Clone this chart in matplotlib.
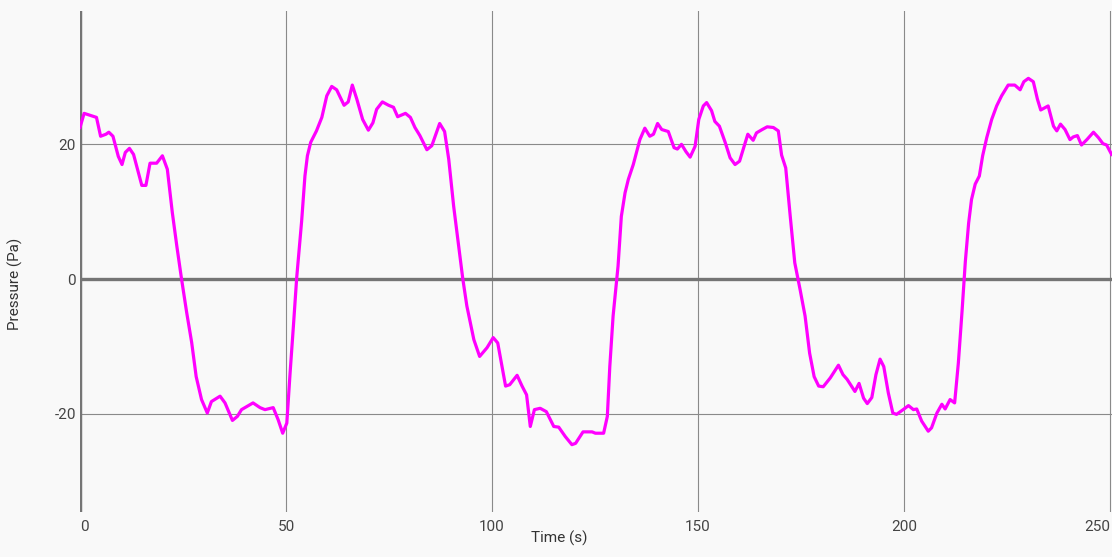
import matplotlib.pyplot as plt

plt.rcParams['font.family'] = ['Roboto', 'DejaVu Sans']

# Pressure trace
time_s = [0, 1, 4, 5, 6.3, 7, 8, 9.3, 10.2, 11, 12, 13, 15, 16, 17, 18.6, 20, 21.2,
          22.4, 23.5, 24.6, 25.9, 27.1, 28.2, 29.5, 30.9, 31.9, 34, 35.2, 37, 38.2,
          39.2, 42, 43.7, 44.9, 46.9, 48.1, 49.2, 50.2, 51, 51.8, 52.6, 53.8, 54.6,
          55.2, 56, 57.4, 58.7, 59.9, 61.1, 62.3, 64.1, 65.1, 66.1, 67.2, 68.6, 70,
          71.1, 72, 73.4, 74.9, 76.1, 77.1, 79, 80.2, 81.3, 82.5, 84.2, 85.4, 87.3,
          88.5, 89.5, 90.7, 91.9, 92.9, 93.9, 95.6, 97, 98.8, 100.3, 101.4, 103.3,
          104.3, 106.1, 107.3, 108.4, 109.3, 110.3, 111.7, 113.2, 115, 116.2, 117.8,
          119.4, 120.3, 122.1, 124.3, 125.1, 127.1, 128, 128.6, 129.4, 130.6, 131.4,
          132.3, 133.1, 134.3, 135.9, 137.1, 138.3, 139.2, 140.2, 141.2, 142.8, 144.2,
          145, 146, 147.1, 148.1, 149.3, 150.2, 151.3, 152.1, 153.3, 154.1, 155.2,
          156.6, 157.8, 159, 160.1, 161, 162.1, 163.4, 164.2, 165.6, 166.8, 168.3,
          169.5, 170.3, 171.3, 172.4, 173.5, 174.8, 176, 177.1, 178.2, 179.3, 180.4,
          182.1, 184.1, 185.2, 186.2, 188.1, 189.1, 190.2, 191.1, 192.2, 193.2, 194.2,
          195.1, 196.2, 197.3, 198.2, 199.8, 201.1, 202.3, 203.1, 204.3, 205.9, 206.7,
          208, 209.2, 210, 211.2, 212.3, 213.2, 214.1, 214.9, 215.7, 216.4, 217.3,
          218.3, 219.1, 220.1, 221.3, 222.5, 223.7, 225.3, 226.9, 228.2, 229.1, 230.2,
          231.4, 232.4, 233.2, 235, 236.3, 237.1, 238, 239.1, 240.3, 241.1, 242.1,
          243.1, 244.4, 246, 247.2, 248.3, 249.2, 250.4]
pressure_pa = [22.5, 24.6, 24.0, 21.2, 21.5, 21.8, 21.2, 18.2, 17.0, 18.8, 19.4, 18.5,
               13.9, 13.9, 17.2, 17.2, 18.3, 16.3, 9.9, 4.9, 0.2, -5.0, -9.4, -14.5,
               -17.9, -19.9, -18.2, -17.4, -18.4, -21.0, -20.4, -19.4, -18.4, -19.1,
               -19.4, -19.1, -20.9, -22.9, -21.4, -13.9, -7.0, 0.2, 8.6, 15.3, 18.3,
               20.3, 22.0, 24.0, 27.2, 28.6, 28.1, 25.8, 26.3, 28.8, 26.7, 23.7, 22.1,
               23.2, 25.2, 26.3, 25.8, 25.5, 24.1, 24.6, 24.0, 22.5, 21.3, 19.2, 19.8,
               23.1, 21.9, 17.8, 10.8, 4.9, 0.1, -4.0, -9.0, -11.5, -10.2, -8.7, -9.5,
               -15.9, -15.7, -14.3, -15.9, -17.2, -21.9, -19.4, -19.2, -19.7, -21.9,
               -22.0, -23.4, -24.6, -24.4, -22.7, -22.7, -22.9, -22.9, -20.4, -13.0,
               -5.5, 1.9, 9.3, 12.8, 14.8, 17.0, 20.7, 22.4, 21.2, 21.5, 23.1, 22.2,
               21.9, 19.5, 19.3, 20.0, 18.9, 18.1, 19.7, 23.7, 25.7, 26.2, 25.0, 23.4,
               22.7, 20.3, 18.0, 17.0, 17.5, 19.3, 21.5, 20.6, 21.7, 22.2, 22.6, 22.5,
               22.0, 18.4, 16.5, 9.3, 2.4, -1.6, -5.5, -11.0, -14.5, -15.9, -16.0,
               -14.7, -12.8, -14.2, -14.9, -16.7, -15.5, -17.7, -18.5, -17.6, -14.2,
               -11.9, -13.0, -16.9, -19.9, -20.1, -19.4, -18.8, -19.4, -19.3, -21.1,
               -22.6, -22.1, -19.9, -18.6, -19.3, -17.9, -18.4, -12.5, -4.8, 2.6, 8.3,
               11.8, 14.1, 15.3, 18.3, 21.0, 23.7, 25.7, 27.2, 28.8, 28.8, 28.1, 29.3,
               29.8, 29.3, 26.7, 25.1, 25.7, 22.7, 22.0, 23.0, 22.2, 20.7, 21.1, 21.3,
               19.9, 20.7, 21.8, 21.0, 20.1, 19.9, 18.5]

x_ticks = [0, 50, 100, 150, 200, 250]
y_ticks = [-20, 0, 20]

bg = '#f9f9f9'
fig = plt.figure(figsize=(11.12, 5.57), dpi=100, facecolor=bg)
ax = fig.add_axes([80 / 1112, 45 / 557, 1032 / 1112, 501 / 557], facecolor=bg)

ax.set_xlim(0, 250.5)
ax.set_ylim(-34.6, 39.8)

for x in x_ticks[1:]:
    ax.axvline(x, color='#8a8a8a', lw=0.8, zorder=1)
for y in y_ticks:
    if y != 0:
        ax.axhline(y, color='#8a8a8a', lw=0.8, zorder=1)
ax.axhline(0, color='#757575', lw=2.4, zorder=2)
ax.axvline(0, color='#757575', lw=3.2, zorder=2)

ax.plot(time_s, pressure_pa, color='#ff00ff', lw=2.3, zorder=3, clip_on=True)

for s in ax.spines.values():
    s.set_visible(False)

ax.set_xticks(x_ticks)
ax.set_yticks(y_ticks)
ax.set_xticklabels([str(v) for v in x_ticks])
ax.set_yticklabels([str(v) for v in y_ticks])
ax.tick_params(length=0, labelsize=11, colors='#444444', pad=6)
ax.tick_params(axis='y', pad=3)
xl = ax.get_xticklabels()
xl[0].set_ha('left')
xl[-1].set_ha('right')

fig.text(0.503, 0.033, 'Time (s)', ha='center', va='center', fontsize=11, color='#333333')
fig.text(0.014, 0.49, 'Pressure (Pa)', ha='center', va='center', rotation=90,
         fontsize=11, color='#333333')

fig.savefig('out.png', dpi=100, facecolor=bg)
